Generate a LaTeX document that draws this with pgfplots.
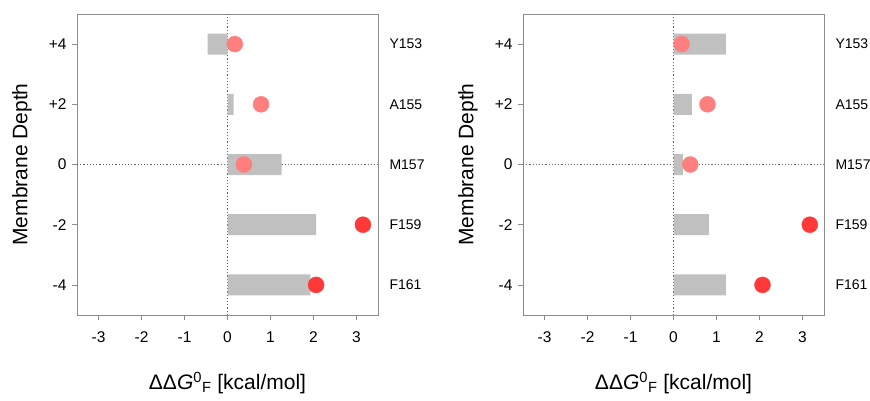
\documentclass[border=0pt]{standalone}
\usepackage{fontspec}
\setmainfont{Liberation Sans}
\usepackage{pgfplots}
\pgfplotsset{compat=1.18}
\definecolor{barg}{HTML}{C0C0C0}
\definecolor{lightred}{HTML}{FF7F7F}
\definecolor{strongred}{HTML}{FF3838}
\definecolor{framegray}{HTML}{8C8C8C}
\definecolor{dotgray}{HTML}{606060}
\tikzset{reslabel/.style={anchor=west, xshift=8bp, font=\fontsize{14bp}{17bp}\selectfont}}
\pgfplotsset{
 myaxis/.style={
  scale only axis, width=301bp, height=301bp,
  xmin=-3.5, xmax=3.5, ymin=-5, ymax=5,
  xtick={-3,-2,-1,0,1,2,3}, xticklabels={-3,-2,-1,0,1,2,3},
  ytick={-4,-2,0,2,4}, yticklabels={-4,-2,0,+2,+4},
  tick align=outside, xtick pos=bottom, ytick pos=left,
  major tick length=5bp,
  axis line style={framegray, line width=1bp},
  tick style={framegray, line width=0.8bp},
  ticklabel style={font=\fontsize{15.5bp}{18bp}\selectfont},
  xticklabel style={yshift=-8bp},
  yticklabel style={xshift=-2bp},
  label style={font=\fontsize{21bp}{25bp}\selectfont},
  xlabel={ΔΔ\textit{G}\textsuperscript{0}\textsubscript{F} [kcal/mol]},
  ylabel={Membrane Depth},
  xlabel style={at={(axis description cs:0.5,-0.226)}, anchor=center},
  ylabel style={at={(axis description cs:-0.183,0.5)}, anchor=center},
  clip=false,
 },
 refline/.style={dotgray, dotted, line width=1.2bp},
}
\begin{document}
\begin{tikzpicture}
\useasboundingbox (0,0) rectangle (870bp,401bp);
% left panel
\begin{axis}[myaxis, at={(77bp,86bp)}, anchor=south west]
\addplot[refline] coordinates {(0,-5) (0,5)};
\addplot[refline] coordinates {(-3.5,0) (3.5,0)};
\addplot[xbar, bar width=21bp, fill=barg, draw=none] coordinates {(-0.46,4) (0.14,2) (1.26,0) (2.06,-2) (1.93,-4)};
\addplot[only marks, mark=*, mark size=8bp, color=lightred] coordinates {(0.17,4) (0.78,2) (0.38,0)};
\addplot[only marks, mark=*, mark size=8bp, color=strongred] coordinates {(3.15,-2) (2.06,-4)};
\node[reslabel] at (axis cs:3.5,4) {Y153};
\node[reslabel] at (axis cs:3.5,2) {A155};
\node[reslabel] at (axis cs:3.5,0) {M157};
\node[reslabel] at (axis cs:3.5,-2) {F159};
\node[reslabel] at (axis cs:3.5,-4) {F161};
\end{axis}
% right panel
\begin{axis}[myaxis, at={(523bp,86bp)}, anchor=south west]
\addplot[refline] coordinates {(0,-5) (0,5)};
\addplot[refline] coordinates {(-3.5,0) (3.5,0)};
\addplot[xbar, bar width=21bp, fill=barg, draw=none] coordinates {(1.22,4) (0.43,2) (0.22,0) (0.82,-2) (1.22,-4)};
\addplot[only marks, mark=*, mark size=8bp, color=lightred] coordinates {(0.19,4) (0.79,2) (0.39,0)};
\addplot[only marks, mark=*, mark size=8bp, color=strongred] coordinates {(3.17,-2) (2.07,-4)};
\node[reslabel] at (axis cs:3.5,4) {Y153};
\node[reslabel] at (axis cs:3.5,2) {A155};
\node[reslabel] at (axis cs:3.5,0) {M157};
\node[reslabel] at (axis cs:3.5,-2) {F159};
\node[reslabel] at (axis cs:3.5,-4) {F161};
\end{axis}
\end{tikzpicture}
\end{document}
